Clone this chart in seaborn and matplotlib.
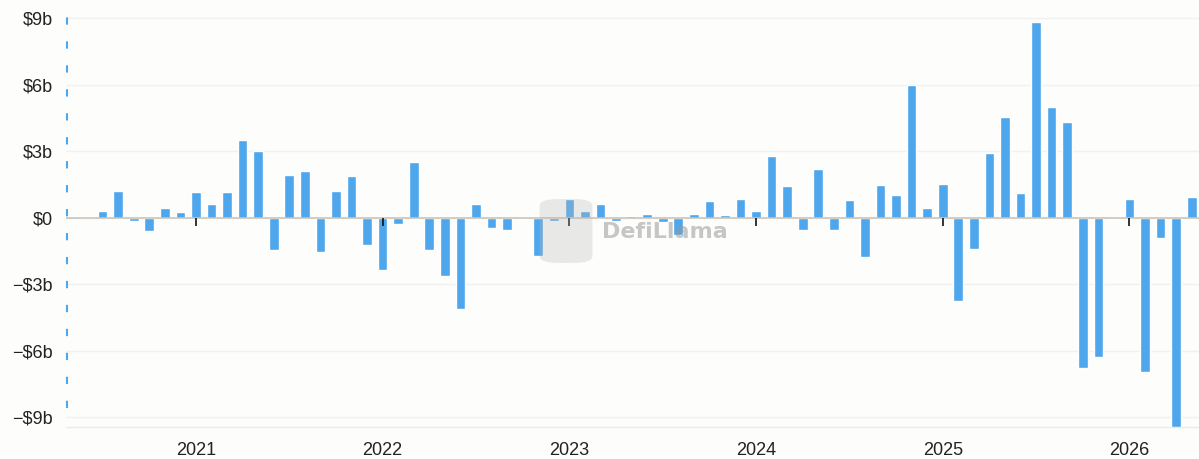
import pandas as pd
import seaborn as sns
import matplotlib.pyplot as plt
from matplotlib.patches import FancyBboxPatch

# monthly net flows, Jun 2020 .. May 2026 (billions of USD)
months = pd.date_range('2020-06-01', '2026-05-01', freq='MS')
flows = [
    0.06, 0.33, 1.23, -0.15, -0.60, 0.44, 0.26,                               # 2020
    1.17, 0.62, 1.17, 3.51, 3.00, -1.46, 1.92, 2.13, -1.55, 1.22, 1.89, -1.22,  # 2021
    -2.37, -0.30, 2.51, -1.43, -2.61, -4.11, 0.63, -0.48, -0.54, -0.03, -1.70, -0.15,  # 2022
    0.83, 0.30, 0.62, -0.15, 0.10, 0.18, -0.20, -0.77, 0.17, 0.74, 0.15, 0.86,  # 2023
    0.32, 2.81, 1.43, -0.53, 2.19, -0.54, 0.80, -1.77, 1.50, 1.04, 6.00, 0.45,  # 2024
    1.52, -3.77, -1.40, 2.94, 4.56, 1.13, 8.84, 5.00, 4.32, -6.77, -6.29, -0.07,  # 2025
    0.83, -6.98, -0.89, -9.43, 0.92,                                           # 2026
]
y_ticks = [-9, -6, -3, 0, 3, 6, 9]
y_tick_labels = ['−$9b', '−$6b', '−$3b', '$0', '$3b', '$6b', '$9b']

df = pd.DataFrame({'month': months.strftime('%Y-%m'), 'flow': flows})
year_pos = [i for i, m in enumerate(months) if m.month == 1]
year_labels = [str(months[i].year) for i in year_pos]

sns.set_theme(style='white')
plt.rcParams['font.family'] = ['Liberation Sans', 'DejaVu Sans']

bg = '#fdfdfc'
fig = plt.figure(figsize=(11.99, 4.59), dpi=100, facecolor=bg)
ax = fig.add_axes([66 / 1199, 1 - 427 / 459, (1199 - 66) / 1199, (427 - 14) / 459])
ax.set_facecolor(bg)

sns.barplot(data=df, x='month', y='flow', color='#4ea6ec', saturation=1,
            width=0.62, ax=ax, zorder=3)

ax.set_xlim(-1.35, len(flows) - 0.53)
ax.set_ylim(-9.44, 9.2)
ax.set_yticks(y_ticks)
ax.set_yticklabels(y_tick_labels)
ax.set_xticks(year_pos)
ax.set_xticklabels(year_labels)
ax.set_xlabel('')
ax.set_ylabel('')

ax.yaxis.grid(True, color='#f1f1ef', lw=1)
ax.set_axisbelow(True)
# zero baseline drawn over the bars
ax.axhline(0, color='#c9c0b4', lw=1.1, zorder=4)
# small year ticks hanging below the zero line
ax.vlines(year_pos, -0.36, 0, color='#111111', lw=1.2, zorder=5)

for s in ['top', 'right', 'left']:
    ax.spines[s].set_visible(False)
ax.spines['bottom'].set_color('#ebebe9')
ax.spines['bottom'].set_linewidth(1)

# dashed blue marker line on the left edge
ax.plot([-1.3, -1.3], [-8.6, 9.1], color='#4ea6ec', lw=1.5,
        ls=(0, (3.5, 8)), clip_on=False, zorder=5)

ax.tick_params(axis='y', length=0, pad=9.5, labelsize=13, labelcolor='#222222')
ax.tick_params(axis='x', length=0, pad=11, labelsize=13, labelcolor='#222222')

# watermark
logo = FancyBboxPatch((542 / 1199, 1 - 262 / 459), 48 / 1199, 62 / 459,
                      boxstyle='round,pad=0.002,rounding_size=0.015',
                      transform=fig.transFigure, facecolor='#b8b8b8',
                      edgecolor='none', alpha=0.3, zorder=6)
fig.patches.append(logo)
fig.text(665 / 1199, 1 - 232 / 459, 'DefiLlama', ha='center', va='center',
         fontsize=16, fontweight='bold', color='#9a9a9a', alpha=0.55,
         family=['DejaVu Sans'])

plt.savefig('out.png', dpi=100, facecolor=bg)
plt.close()
